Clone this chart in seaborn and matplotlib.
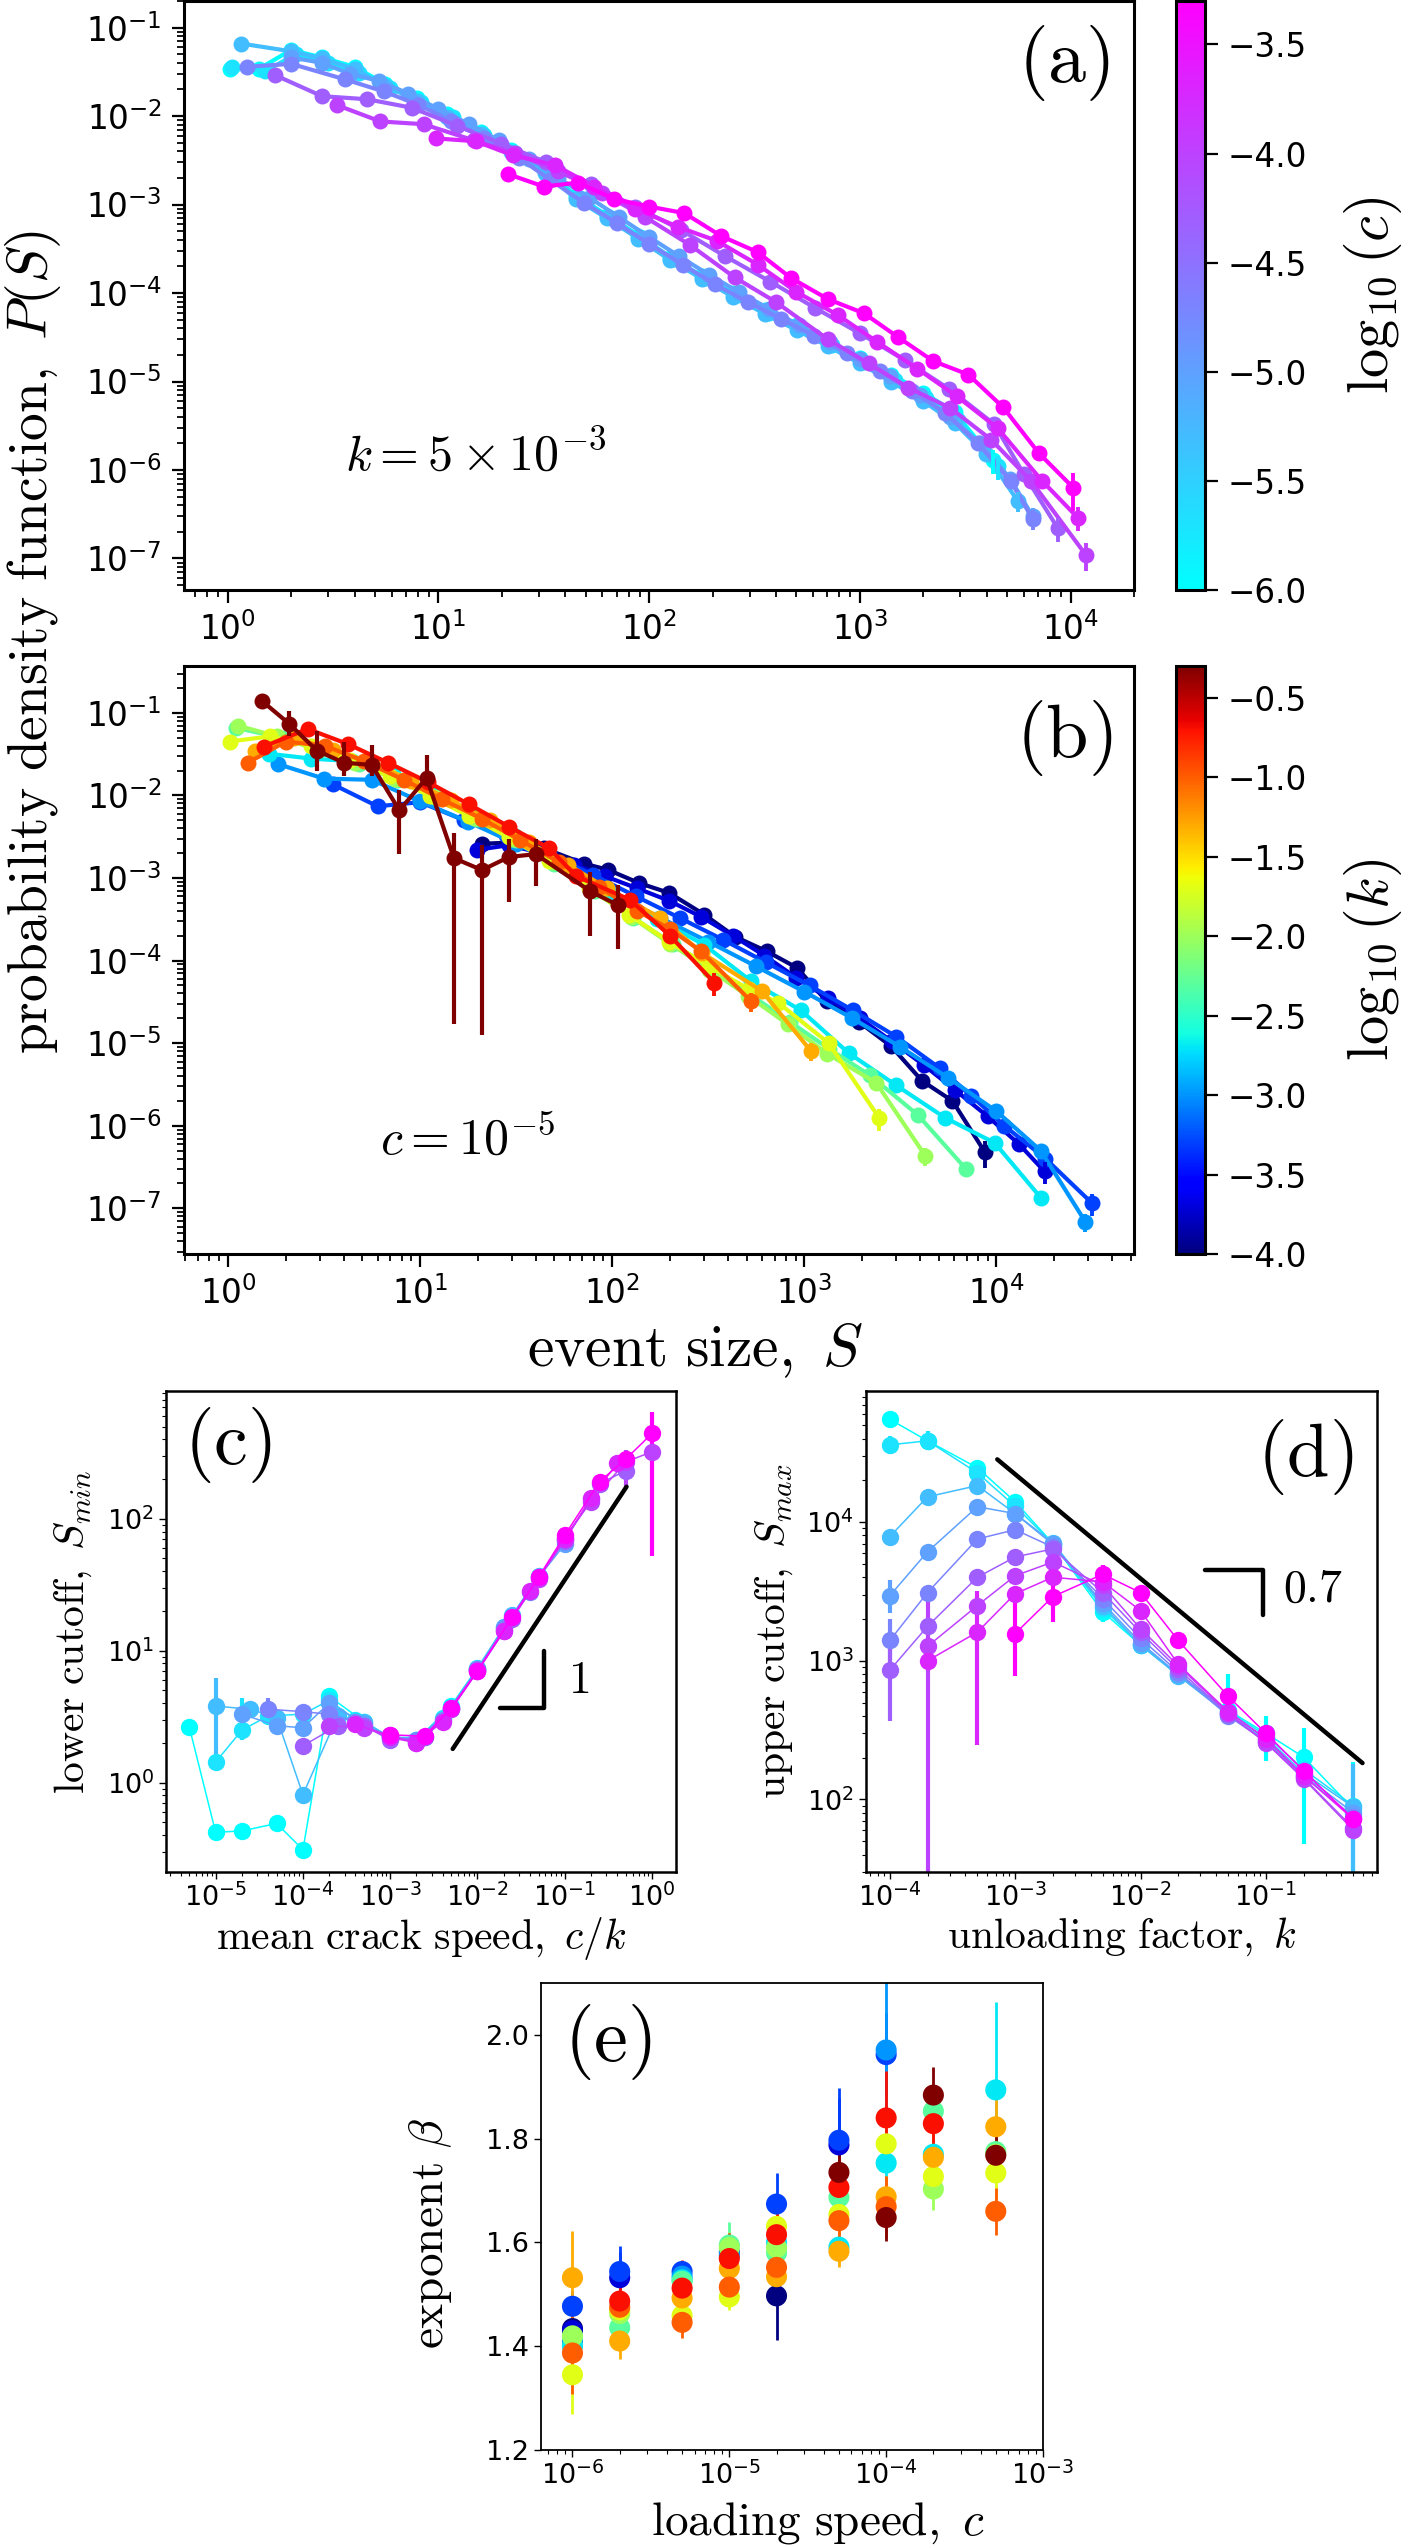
import numpy as np
import pandas as pd
import seaborn as sns
import matplotlib.pyplot as plt
from matplotlib.colors import Normalize
from matplotlib.cm import ScalarMappable
from matplotlib.ticker import LogLocator, NullFormatter

nan = np.nan

# loading speeds c and unloading factors k used in the runs
c_values = [1e-6, 2e-6, 5e-6, 1e-5, 2e-5, 5e-5, 1e-4, 2e-4, 5e-4]
k_values = [1e-4, 2e-4, 5e-4, 1e-3, 2e-3, 5e-3, 1e-2, 2e-2, 5e-2, 0.1, 0.2, 0.5]

# (a) event size distributions at k = 5e-3, one curve per c
a_S = [
    [1.03, 1.4, 2.0, 2.8, 4.0, 5.6, 7.9, 11, 16, 22, 32, 45, 63, 89, 126, 178, 251, 355, 501, 708, 1000, 1410, 2000, 2820, 4300],
    [1.05, 1.5, 2.1, 3.0, 4.2, 5.9, 8.3, 11.7, 16.5, 23, 33, 47, 66, 93, 131, 185, 262, 370, 520, 735, 1040, 1470, 2070, 2930, 4500],
    [1.16, 2.0, 2.8, 4.0, 5.6, 7.9, 11, 16, 22, 32, 45, 63, 89, 126, 178, 251, 355, 501, 708, 1000, 1410, 2000, 2820, 3980, 5600],
    [2.0, 2.8, 3.8, 5.2, 7.2, 10, 13.9, 19.3, 27, 37, 52, 72, 100, 139, 193, 268, 372, 517, 718, 1000, 1390, 1930, 2680, 3720, 5170, 6600],
    [1.23, 2.0, 3.6, 5.5, 8.0, 11.5, 16.5, 24, 34, 49, 70, 100, 144, 206, 295, 422, 604, 865, 1240, 1770, 2540, 3630, 5200, 6600],
    [1.68, 2.8, 4.6, 7.5, 12.2, 19.9, 32.5, 53, 86, 141, 230, 375, 612, 1000, 1630, 2660, 4340, 6000, 8700],
    [3.3, 5.3, 8.5, 14.8, 23, 37, 60, 96, 156, 255, 400, 705, 1100, 1700, 2690, 4200, 6500, 11800],
    [9.7, 15, 22.6, 35.6, 55, 86, 137, 209, 327, 500, 790, 1210, 1870, 2890, 4520, 7300, 10800],
    [21.5, 31.6, 46, 68, 100, 147, 220, 327, 471, 708, 1047, 1510, 2230, 3270, 4790, 7070, 10300],
]
a_P = [
    [0.034, 0.034, 0.056, 0.046, 0.036, 0.023, 0.016, 0.0105, 0.0066, 0.0041, 0.0024, 0.00125, 7.5e-4, 4.4e-4, 2.5e-4, 1.55e-4, 1.0e-4, 6.4e-5, 4.3e-5, 2.9e-5, 1.85e-5, 1.2e-5, 7.5e-6, 4.5e-6, 1.3e-6],
    [0.036, 0.032, 0.05, 0.04, 0.031, 0.021, 0.0145, 0.0097, 0.0061, 0.0038, 0.0022, 0.00118, 7.1e-4, 4.2e-4, 2.4e-4, 1.48e-4, 9.4e-5, 6.0e-5, 4.0e-5, 2.6e-5, 1.65e-5, 1.05e-5, 6.5e-6, 3.7e-6, 1.1e-6],
    [0.066, 0.054, 0.045, 0.034, 0.022, 0.015, 0.0098, 0.0062, 0.0039, 0.0023, 0.00115, 7.0e-4, 4.1e-4, 2.35e-4, 1.45e-4, 9.0e-5, 5.8e-5, 3.8e-5, 2.5e-5, 1.6e-5, 1.0e-5, 6.0e-6, 3.4e-6, 1.5e-6, 4.5e-7],
    [0.046, 0.04, 0.03, 0.025, 0.018, 0.012, 0.0082, 0.0053, 0.0033, 0.002, 0.0012, 7.2e-4, 4.3e-4, 2.6e-4, 1.6e-4, 1.02e-4, 6.6e-5, 4.3e-5, 2.8e-5, 1.8e-5, 1.15e-5, 7.0e-6, 4.0e-6, 2.0e-6, 8.0e-7, 3.0e-7],
    [0.036, 0.039, 0.026, 0.019, 0.0135, 0.0088, 0.0056, 0.0034, 0.0019, 0.00105, 6.2e-4, 3.6e-4, 2.1e-4, 1.25e-4, 7.9e-5, 5.1e-5, 3.3e-5, 2.1e-5, 1.3e-5, 7.8e-6, 4.4e-6, 2.0e-6, 7.5e-7, 2.8e-7],
    [0.029, 0.0168, 0.0155, 0.0124, 0.0078, 0.0049, 0.003, 0.0017, 9.5e-4, 5.2e-4, 2.6e-4, 1.35e-4, 6.8e-5, 3.5e-5, 1.75e-5, 8.2e-6, 3.3e-6, 9.0e-7, 2.2e-7],
    [0.0133, 0.0087, 0.0081, 0.0053, 0.0038, 0.0024, 0.00135, 7.2e-4, 3.5e-4, 1.5e-4, 7.9e-5, 3.0e-5, 1.6e-5, 8.5e-6, 5.0e-6, 2.2e-6, 7.5e-7, 1.1e-7],
    [0.0056, 0.0052, 0.0036, 0.0028, 0.0016, 9.0e-4, 5.6e-4, 3.9e-4, 2.1e-4, 1.03e-4, 5.6e-5, 2.8e-5, 1.4e-5, 6.8e-6, 2.95e-6, 7.6e-7, 2.9e-7],
    [0.0022, 0.0016, 0.00177, 0.00116, 9.5e-4, 8.0e-4, 4.4e-4, 2.9e-4, 1.48e-4, 8.5e-5, 5.9e-5, 3.2e-5, 1.7e-5, 1.2e-5, 5.1e-6, 1.55e-6, 6.3e-7],
]
a_tail_err = [0.3, 0.3, 0.25, 0.25, 0.25, 0.3, 0.35, 0.3, 0.45]

# (b) event size distributions at c = 1e-5, one curve per k
b_S = [
    [21, 30, 44, 71, 95, 138, 198, 302, 436, 636, 915, 1310, 1930, 2830, 4100, 5900, 8700],
    [19.8, 29, 43, 63, 92, 135, 198, 290, 425, 620, 910, 1330, 1950, 2860, 4200, 6100, 9000, 13100, 17800],
    [3.5, 6.0, 10, 17, 28, 47, 79, 133, 224, 376, 633, 1064, 1790, 3010, 5060, 7400, 11000, 18000, 31500],
    [1.82, 3.16, 5.6, 10, 17.8, 31.6, 56, 100, 178, 316, 562, 1000, 1780, 3160, 5620, 10000, 17000, 29000],
    [1.64, 2.7, 4.4, 7.2, 11.8, 19, 31, 54, 96, 170, 302, 530, 960, 1700, 3000, 5400, 9800, 17000],
    [1.1, 1.9, 3.0, 4.8, 7.7, 12.3, 19.7, 31.5, 50, 81, 129, 206, 330, 530, 845, 1350, 2190, 3900, 6940],
    [1.13, 1.8, 2.9, 4.6, 7.4, 11.9, 19, 30, 49, 78, 125, 200, 320, 512, 820, 1310, 2370, 4270],
    [1.02, 1.65, 2.7, 4.3, 7.0, 11.3, 18, 29, 47, 76, 122, 198, 320, 516, 730, 1340, 2460],
    [1.38, 2.2, 3.5, 5.6, 9.0, 14.4, 23, 37, 59, 94, 178, 295, 600, 1080],
    [1.27, 2.0, 3.2, 5.1, 8.2, 13, 21, 33, 53, 85, 135, 200, 290, 530],
    [1.53, 2.6, 4.2, 6.8, 11, 18, 29, 47, 65, 123, 200, 340],
    [1.5, 2.08, 2.9, 4.0, 5.6, 7.8, 10.8, 15, 21, 29, 40, 77, 107],
]
b_P = [
    [2.6e-3, 2.7e-3, 2.3e-3, 1.5e-3, 1.26e-3, 8.7e-4, 6.6e-4, 3.6e-4, 1.95e-4, 1.3e-4, 8.2e-5, 3.2e-5, 1.8e-5, 9.2e-6, 3.5e-6, 2.0e-6, 4.8e-7],
    [2.2e-3, 2.5e-3, 2.0e-3, 1.45e-3, 1.05e-3, 7.5e-4, 5.3e-4, 3.4e-4, 2.0e-4, 1.15e-4, 6.2e-5, 3.5e-5, 2.0e-5, 1.05e-5, 5.4e-6, 2.7e-6, 1.3e-6, 6.0e-7, 2.8e-7],
    [0.0137, 7.4e-3, 8.3e-3, 5.0e-3, 3.3e-3, 1.95e-3, 1.1e-3, 6.0e-4, 3.3e-4, 1.8e-4, 9.5e-5, 5.0e-5, 2.5e-5, 1.2e-5, 5.0e-6, 2.3e-6, 1.0e-6, 4.0e-7, 1.15e-7],
    [0.024, 0.016, 0.0155, 0.0085, 0.0048, 0.0026, 1.4e-3, 6.5e-4, 3.3e-4, 1.7e-4, 8.5e-5, 4.2e-5, 2.0e-5, 9.0e-6, 3.8e-6, 1.5e-6, 5.0e-7, 6.9e-8],
    [0.032, 0.028, 0.026, 0.018, 0.0105, 0.0058, 0.0032, 1.5e-3, 6.8e-4, 3.2e-4, 1.55e-4, 5.6e-5, 2.5e-5, 7.6e-6, 3.1e-6, 1.25e-6, 6.2e-7, 1.35e-7],
    [0.066, 0.05, 0.036, 0.024, 0.0155, 0.0092, 0.0052, 2.9e-3, 1.5e-3, 7.0e-4, 3.3e-4, 1.6e-4, 8.0e-5, 3.8e-5, 1.8e-5, 8.5e-6, 4.1e-6, 1.35e-6, 3.0e-7],
    [0.07, 0.052, 0.036, 0.025, 0.016, 0.0095, 0.0054, 0.003, 1.55e-3, 7.2e-4, 3.4e-4, 1.6e-4, 7.8e-5, 3.7e-5, 1.7e-5, 7.5e-6, 3.3e-6, 4.3e-7],
    [0.045, 0.052, 0.04, 0.027, 0.017, 0.0098, 0.0056, 0.0031, 1.6e-3, 7.6e-4, 3.6e-4, 1.7e-4, 8.5e-5, 4.5e-5, 3.1e-5, 1.0e-5, 1.23e-6],
    [0.035, 0.05, 0.036, 0.025, 0.015, 0.0088, 0.005, 0.0027, 1.45e-3, 7.5e-4, 3.3e-4, 1.23e-4, 4.3e-5, 8.1e-6],
    [0.025, 0.045, 0.04, 0.026, 0.0155, 0.009, 0.0052, 0.0029, 1.55e-3, 7.8e-4, 4.0e-4, 2.4e-4, 1.3e-4, 3.2e-5],
    [0.039, 0.064, 0.042, 0.025, 0.0145, 0.0078, 0.0042, 0.0023, 1.05e-3, 5.5e-4, 2.0e-4, 5.4e-5],
    [0.14, 0.074, 0.035, 0.025, 0.0234, 0.0066, 0.0163, 1.74e-3, 1.25e-3, 1.8e-3, 1.95e-3, 6.9e-4, 4.7e-4],
]
b_tail_err = [0.35, 0.3, 0.3, 0.25, 0.2, 0.2, 0.25, 0.3, 0.25, 0.25, 0.3, 0.0]
# error bar ends for the k = 0.5 curve
b_last_lo = [0.12, 0.053, 0.02, 0.017, 0.017, 1.95e-3, 0.013, 1.7e-5, 1.26e-5, 5.2e-4, 8.0e-4, 2.0e-4, 1.4e-4]
b_last_hi = [0.165, 0.105, 0.06, 0.045, 0.041, 0.0117, 0.031, 3.5e-3, 2.5e-3, 3.0e-3, 3.0e-3, 1.17e-3, 8.3e-4]

# (c) lower cutoff S_min, rows = c, columns = k
smin = [
    [7.3, 3.8, 2.1, 2.2, 2.9, 4.5, 0.31, 0.49, 0.43, 0.42, 2.63, nan],
    [15.0, 7.4, 3.1, 2.1, 2.2, 3.0, 4.2, 3.3, 3.2, 2.5, 1.43, nan],
    [37, 18.5, 7.2, 3.7, 2.2, 2.2, 2.9, 3.2, 0.81, 3.1, 3.6, 3.8],
    [64, 36, 15, 7.2, 3.7, 2.1, 2.2, 2.8, 4.0, 2.6, 2.7, 3.3],
    [140, 70, 28, 14.5, 7.2, 3.0, 2.05, 2.2, 2.9, 3.3, 3.45, 3.6],
    [231, 185, 68, 36, 17.5, 7.1, 3.6, 2.2, 2.1, 2.7, 2.7, 1.9],
    [322, 270, 135, 72, 35, 14.0, 7.0, 3.6, 2.0, 2.3, 2.6, 2.7],
    [nan, nan, 265, 143, 70, 28.5, 14.2, 7.0, 2.9, 2.0, 2.2, 2.8],
    [nan, nan, 443, 284, 191, 75, 36, 18, 7.0, 3.7, 2.25, 2.3],
]
# (row, column, lower end, upper end)
smin_bars = [(8, 2, 52, 640), (6, 1, 170, 330), (2, 11, 1.5, 6.2), (1, 9, 2.1, 4.4), (4, 11, 2.9, 4.4)]

# (d) upper cutoff S_max, rows = c, columns = k
smax = [
    [5.5e4, 3.85e4, 2.46e4, 1.4e4, 7.0e3, 2.25e3, 1.3e3, 790, 440, 300, 202, 85],
    [3.6e4, 3.85e4, 2.26e4, 1.3e4, 7.0e3, 2.4e3, 1.3e3, 800, 430, 290, 165, 90],
    [7.85e3, 1.52e4, 1.83e4, 1.15e4, 7.1e3, 2.5e3, 1.3e3, 780, 410, 280, 155, 88],
    [2.94e3, 6.1e3, 1.29e4, 1.15e4, 6.9e3, 2.6e3, 1.35e3, 800, 405, 270, 150, 80],
    [1.4e3, 3.1e3, 7.55e3, 8.8e3, 6.6e3, 2.8e3, 1.45e3, 830, 400, 262, 147, 75],
    [855, 1.77e3, 4.0e3, 5.6e3, 6.4e3, 3.1e3, 1.6e3, 870, 410, 258, 143, 62],
    [nan, 1.27e3, 2.5e3, 4.1e3, 5.15e3, 3.5e3, 1.7e3, 920, 420, 256, 141, 60],
    [nan, 1.0e3, 1.61e3, 3.04e3, 4.0e3, 3.7e3, 2.3e3, 945, 430, 275, 148, 72],
    [nan, nan, nan, 1.57e3, 2.9e3, 4.2e3, 3.1e3, 1.4e3, 555, 300, 161, 72],
]
smax_bars = [
    (0, 0, 4.8e4, 6.2e4), (1, 0, 3.1e4, 4.2e4), (1, 1, 3.3e4, 4.5e4), (3, 0, 2.2e3, 3.8e3),
    (4, 0, 1.0e3, 2.0e3), (5, 0, 365, 1.3e3), (6, 1, 1.0, 3.3e3), (7, 2, 245, 3.2e3),
    (8, 3, 780, 3.0e3), (8, 4, 1.9e3, 4.0e3), (8, 5, 3.2e3, 4.9e3), (0, 5, 1.9e3, 2.7e3),
    (0, 8, 380, 800), (0, 9, 190, 400), (0, 10, 48, 330), (0, 11, 1.0, 185), (2, 11, 1.0, 180),
]

# (e) exponent beta, rows = c, columns = k
beta = [
    [1.434, 1.43, 1.477, 1.41, 1.40, 1.418, 1.42, 1.345, 1.532, 1.387, nan, nan],
    [nan, 1.532, 1.544, nan, nan, 1.436, 1.463, 1.47, 1.41, 1.475, 1.487, nan],
    [nan, nan, 1.544, 1.535, 1.528, 1.525, nan, 1.459, 1.493, 1.446, 1.512, nan],
    [nan, nan, 1.582, 1.575, nan, 1.595, 1.59, 1.495, 1.55, 1.514, 1.569, nan],
    [1.497, nan, 1.674, nan, 1.60, 1.58, 1.59, 1.631, 1.534, 1.552, 1.615, nan],
    [nan, 1.788, 1.797, nan, 1.591, 1.687, nan, 1.654, 1.583, 1.642, 1.706, 1.735],
    [nan, nan, 1.962, 1.971, 1.753, nan, nan, 1.79, 1.688, 1.669, 1.840, 1.648],
    [nan, nan, nan, nan, 1.77, 1.853, 1.703, 1.727, 1.764, nan, 1.829, 1.884],
    [nan, nan, nan, nan, 1.894, 1.775, 1.77, 1.734, 1.823, 1.66, nan, 1.768],
]
beta_err = [
    [0.02, 0.02, 0.03, 0.03, 0.03, 0.03, 0.03, 0.075, 0.09, 0.08, nan, nan],
    [nan, 0.05, 0.05, nan, nan, 0.03, 0.03, 0.03, 0.035, 0.03, 0.075, nan],
    [nan, nan, 0.02, 0.02, 0.02, 0.02, nan, 0.03, 0.04, 0.03, 0.055, nan],
    [nan, nan, 0.02, 0.02, nan, 0.045, 0.03, 0.025, 0.03, 0.03, 0.05, nan],
    [0.085, nan, 0.06, nan, 0.03, 0.03, 0.03, 0.03, 0.03, 0.03, 0.06, nan],
    [nan, 0.09, 0.1, nan, 0.02, 0.03, nan, 0.05, 0.03, 0.04, 0.06, 0.07],
    [nan, nan, 0.08, 0.14, 0.04, nan, nan, 0.05, 0.04, 0.06, 0.09, 0.045],
    [nan, nan, nan, nan, 0.05, 0.05, 0.04, 0.04, 0.06, nan, 0.06, 0.055],
    [nan, nan, nan, nan, 0.17, 0.06, 0.05, 0.05, 0.065, 0.045, nan, 0.045],
]

# guide lines with slopes 1 and -0.7
c_guide_x = [5.2e-3, 0.51]
c_guide_y = [1.8, 175]
c_tri_x = [0.018, 0.058, 0.058]
c_tri_y = [3.66, 3.66, 10.0]
d_guide_x = [7.2e-4, 0.59]
d_guide_y = [2.83e4, 183]
d_tri_x = [0.0326, 0.094, 0.094]
d_tri_y = [4.5e3, 4.5e3, 2.13e3]


sns.set_style("ticks", {"axes.edgecolor": "black", "xtick.color": "black",
                        "ytick.color": "black", "text.color": "black",
                        "axes.labelcolor": "black"})
plt.rcParams["font.family"] = ["DejaVu Sans"]
plt.rcParams["mathtext.fontset"] = "dejavusans"

c_norm = Normalize(vmin=-6.0, vmax=np.log10(5e-4))
k_norm = Normalize(vmin=-4.0, vmax=np.log10(0.5))
cool = plt.get_cmap("cool")
jet = plt.get_cmap("jet")


def curves_frame(x_lists, y_lists, keys):
    rows = []
    for key, xs, ys in zip(keys, x_lists, y_lists):
        for x, y in zip(xs, ys):
            rows.append({"key": np.log10(key), "x": x, "y": y})
    return pd.DataFrame(rows)


def table_frame(table, mode):
    rows = []
    for i, c in enumerate(c_values):
        for j, k in enumerate(k_values):
            v = table[i][j]
            if np.isnan(v):
                continue
            if mode == "c_over_k":
                rows.append({"key": np.log10(c), "x": c / k, "y": v})
            else:
                rows.append({"key": np.log10(c), "x": k, "y": v})
    return pd.DataFrame(rows)


def log_ticks(axis):
    axis.set_major_locator(LogLocator(base=10, numticks=30))
    axis.set_minor_locator(LogLocator(base=10, subs=np.arange(2, 10), numticks=30))
    axis.set_minor_formatter(NullFormatter())


def style_axes(ax, labelsize, major_len, minor_len, tick_w, pad, spine_w):
    ax.tick_params(which="major", direction="out", length=major_len, width=tick_w,
                   labelsize=labelsize, pad=pad)
    ax.tick_params(which="minor", direction="out", length=minor_len, width=tick_w * 0.8)
    for sp in ax.spines.values():
        sp.set_linewidth(spine_w)
        sp.set_color("black")


W, H = 1406, 2545


def box(x0, y0, x1, y1):
    return [x0 / W, 1 - y1 / H, (x1 - x0) / W, (y1 - y0) / H]


fig = plt.figure(figsize=(W / 100, H / 100), dpi=100)

# ---------- (a) ----------
ax_a = fig.add_axes(box(184, 1, 1134, 590))
ax_a.set_xscale("log")
ax_a.set_yscale("log")
df_a = curves_frame(a_S, a_P, c_values)
sns.lineplot(data=df_a, x="x", y="y", hue="key", palette=cool,
             hue_norm=(c_norm.vmin, c_norm.vmax), estimator=None, errorbar=None,
             marker="o", markersize=11.5, markeredgewidth=0, linewidth=3.0,
             legend=False, ax=ax_a)
for i, c in enumerate(c_values):
    s_end, p_end = a_S[i][-1], a_P[i][-1]
    ax_a.errorbar([s_end], [p_end], yerr=[[p_end * a_tail_err[i]], [p_end * a_tail_err[i]]],
                  fmt="none", ecolor=cool(c_norm(np.log10(c))), elinewidth=2.8)
ax_a.set_xlim(0.62, 2.0e4)
ax_a.set_ylim(4.4e-8, 0.2)
log_ticks(ax_a.xaxis)
log_ticks(ax_a.yaxis)
style_axes(ax_a, 23.5, 9, 5, 1.6, 7, 2.2)
ax_a.set_xlabel("")
ax_a.set_ylabel("")
ax_a.text(0.926, 0.895, r"$\mathrm{(a)}$", transform=ax_a.transAxes, fontsize=55,
          ha="center", va="center", math_fontfamily="cm")
ax_a.text(0.307, 0.229, r"$k=5\times10^{-3}$", transform=ax_a.transAxes, fontsize=36,
          ha="center", va="center", math_fontfamily="cm")

cax_a = fig.add_axes(box(1176, 1, 1205, 590))
cb_a = fig.colorbar(ScalarMappable(norm=c_norm, cmap=cool), cax=cax_a)
cb_a.set_ticks([-6.0, -5.5, -5.0, -4.5, -4.0, -3.5])
cb_a.ax.tick_params(labelsize=23.5, length=9, width=1.6, pad=7)
cb_a.outline.set_linewidth(2.2)

# ---------- (b) ----------
ax_b = fig.add_axes(box(184, 666, 1134, 1254))
ax_b.set_xscale("log")
ax_b.set_yscale("log")
df_b = curves_frame(b_S, b_P, k_values)
sns.lineplot(data=df_b, x="x", y="y", hue="key", palette=jet,
             hue_norm=(k_norm.vmin, k_norm.vmax), estimator=None, errorbar=None,
             marker="o", markersize=11.5, markeredgewidth=0, linewidth=3.0,
             legend=False, ax=ax_b)
for j, k in enumerate(k_values[:-1]):
    s_end, p_end = b_S[j][-1], b_P[j][-1]
    ax_b.errorbar([s_end], [p_end], yerr=[[p_end * b_tail_err[j]], [p_end * b_tail_err[j]]],
                  fmt="none", ecolor=jet(k_norm(np.log10(k))), elinewidth=2.8)
p_last = np.array(b_P[-1])
ax_b.errorbar(b_S[-1], p_last, yerr=[p_last - np.array(b_last_lo), np.array(b_last_hi) - p_last],
              fmt="none", ecolor=jet(1.0), elinewidth=3.0, zorder=5)
ax_b.set_xlim(0.59, 5.2e4)
ax_b.set_ylim(2.8e-8, 0.37)
log_ticks(ax_b.xaxis)
log_ticks(ax_b.yaxis)
style_axes(ax_b, 23.5, 9, 5, 1.6, 7, 2.2)
ax_b.set_xlabel("")
ax_b.set_ylabel("")
ax_b.text(0.926, 0.878, r"$\mathrm{(b)}$", transform=ax_b.transAxes, fontsize=55,
          ha="center", va="center", math_fontfamily="cm")
ax_b.text(0.298, 0.194, r"$c=10^{-5}$", transform=ax_b.transAxes, fontsize=36,
          ha="center", va="center", math_fontfamily="cm")

cax_b = fig.add_axes(box(1176, 666, 1205, 1254))
cb_b = fig.colorbar(ScalarMappable(norm=k_norm, cmap=jet), cax=cax_b)
cb_b.set_ticks([-4.0, -3.5, -3.0, -2.5, -2.0, -1.5, -1.0, -0.5])
cb_b.ax.tick_params(labelsize=23.5, length=9, width=1.6, pad=7)
cb_b.outline.set_linewidth(2.2)

fig.text(33 / W, 1 - 642 / H, r"$\mathrm{probability\ density\ function,}\ P(S)$",
         rotation=90, ha="center", va="center", fontsize=40, math_fontfamily="cm")
fig.text(695 / W, 1 - 1350 / H, r"$\mathrm{event\ size,}\ S$",
         ha="center", va="center", fontsize=43, math_fontfamily="cm")
fig.text(1373 / W, 1 - 295 / H, r"$\log_{10}(c)$", rotation=90,
         ha="center", va="center", fontsize=42, math_fontfamily="cm")
fig.text(1373 / W, 1 - 960 / H, r"$\log_{10}(k)$", rotation=90,
         ha="center", va="center", fontsize=42, math_fontfamily="cm")

# ---------- (c) ----------
ax_c = fig.add_axes(box(166, 1391, 676, 1872))
ax_c.set_xscale("log")
ax_c.set_yscale("log")
for ci, kj, lo, hi in smin_bars:
    v = smin[ci][kj]
    ax_c.errorbar([c_values[ci] / k_values[kj]], [v], yerr=[[v - lo], [hi - v]], fmt="none",
                  ecolor=cool(c_norm(np.log10(c_values[ci]))), elinewidth=3.0)
sns.lineplot(data=table_frame(smin, "c_over_k"), x="x", y="y", hue="key", palette=cool,
             hue_norm=(c_norm.vmin, c_norm.vmax), estimator=None, errorbar=None,
             marker="o", markersize=12.5, markeredgewidth=0, linewidth=1.1,
             legend=False, ax=ax_c)
ax_c.plot(c_guide_x, c_guide_y, color="black", lw=3.2)
ax_c.plot(c_tri_x, c_tri_y, color="black", lw=3.2)
ax_c.text(0.145, 5.9, r"$1$", fontsize=33, ha="center", va="center", math_fontfamily="cm")
ax_c.set_xlim(2.7e-6, 1.88)
ax_c.set_ylim(0.21, 930)
log_ticks(ax_c.xaxis)
log_ticks(ax_c.yaxis)
style_axes(ax_c, 19.5, 5, 3, 1.0, 3.5, 1.8)
ax_c.set_xlabel(r"$\mathrm{mean\ crack\ speed,}\ c/k$", fontsize=30, math_fontfamily="cm")
ax_c.set_ylabel(r"$\mathrm{lower\ cutoff,}\ S_{min}$", fontsize=30, math_fontfamily="cm")
ax_c.xaxis.set_label_coords(0.5, -0.09)
ax_c.yaxis.set_label_coords(-0.141, 0.5)
ax_c.text(0.122, 0.888, r"$\mathrm{(c)}$", transform=ax_c.transAxes, fontsize=55,
          ha="center", va="center", math_fontfamily="cm")

# ---------- (d) ----------
ax_d = fig.add_axes(box(866, 1391, 1377, 1872))
ax_d.set_xscale("log")
ax_d.set_yscale("log")
for ci, kj, lo, hi in smax_bars:
    v = smax[ci][kj]
    ax_d.errorbar([k_values[kj]], [v], yerr=[[v - lo], [hi - v]], fmt="none",
                  ecolor=cool(c_norm(np.log10(c_values[ci]))), elinewidth=3.0)
sns.lineplot(data=table_frame(smax, "k"), x="x", y="y", hue="key", palette=cool,
             hue_norm=(c_norm.vmin, c_norm.vmax), estimator=None, errorbar=None,
             marker="o", markersize=12.5, markeredgewidth=0, linewidth=1.1,
             legend=False, ax=ax_d)
ax_d.plot(d_guide_x, d_guide_y, color="black", lw=3.2)
ax_d.plot(d_tri_x, d_tri_y, color="black", lw=3.2)
ax_d.text(0.237, 3.25e3, r"$0.7$", fontsize=33, ha="center", va="center", math_fontfamily="cm")
ax_d.set_xlim(6.46e-5, 0.77)
ax_d.set_ylim(30, 8.8e4)
log_ticks(ax_d.xaxis)
log_ticks(ax_d.yaxis)
style_axes(ax_d, 19.5, 5, 3, 1.0, 3.5, 1.8)
ax_d.set_xlabel(r"$\mathrm{unloading\ factor,}\ k$", fontsize=30, math_fontfamily="cm")
ax_d.set_ylabel(r"$\mathrm{upper\ cutoff,}\ S_{max}$", fontsize=30, math_fontfamily="cm")
ax_d.xaxis.set_label_coords(0.5, -0.09)
ax_d.yaxis.set_label_coords(-0.139, 0.5)
ax_d.text(0.859, 0.863, r"$\mathrm{(d)}$", transform=ax_d.transAxes, fontsize=55,
          ha="center", va="center", math_fontfamily="cm")

# ---------- (e) ----------
ax_e = fig.add_axes(box(541, 1983, 1043, 2450))
ax_e.set_xscale("log")
rows_e = []
for j, k in enumerate(k_values):
    xs, ys, es = [], [], []
    for i, c in enumerate(c_values):
        if np.isnan(beta[i][j]):
            continue
        err = beta_err[i][j]
        xs.append(c)
        ys.append(beta[i][j])
        es.append(0.0 if np.isnan(err) else err)
        rows_e.append({"key": np.log10(k), "x": c, "y": beta[i][j]})
    ax_e.errorbar(xs, ys, yerr=es, fmt="none", ecolor=jet(k_norm(np.log10(k))),
                  elinewidth=2.0, zorder=2)
sns.scatterplot(data=pd.DataFrame(rows_e), x="x", y="y", hue="key", palette=jet,
                hue_norm=(k_norm.vmin, k_norm.vmax), s=230, linewidth=0,
                legend=False, ax=ax_e, zorder=3)
ax_e.set_xlim(6.3e-7, 1e-3)
ax_e.set_ylim(1.2, 2.1)
ax_e.set_yticks([1.2, 1.4, 1.6, 1.8, 2.0])
log_ticks(ax_e.xaxis)
style_axes(ax_e, 19.5, 5, 3, 1.0, 3.5, 1.3)
ax_e.set_xlabel(r"$\mathrm{loading\ speed,}\ c$", fontsize=34, math_fontfamily="cm")
ax_e.set_ylabel(r"$\mathrm{exponent}\ \beta$", fontsize=34, math_fontfamily="cm")
ax_e.xaxis.set_label_coords(0.552, -0.106)
ax_e.yaxis.set_label_coords(-0.173, 0.463)
ax_e.text(0.133, 0.874, r"$\mathrm{(e)}$", transform=ax_e.transAxes, fontsize=55,
          ha="center", va="center", math_fontfamily="cm")

fig.savefig("out.png", dpi=100)
